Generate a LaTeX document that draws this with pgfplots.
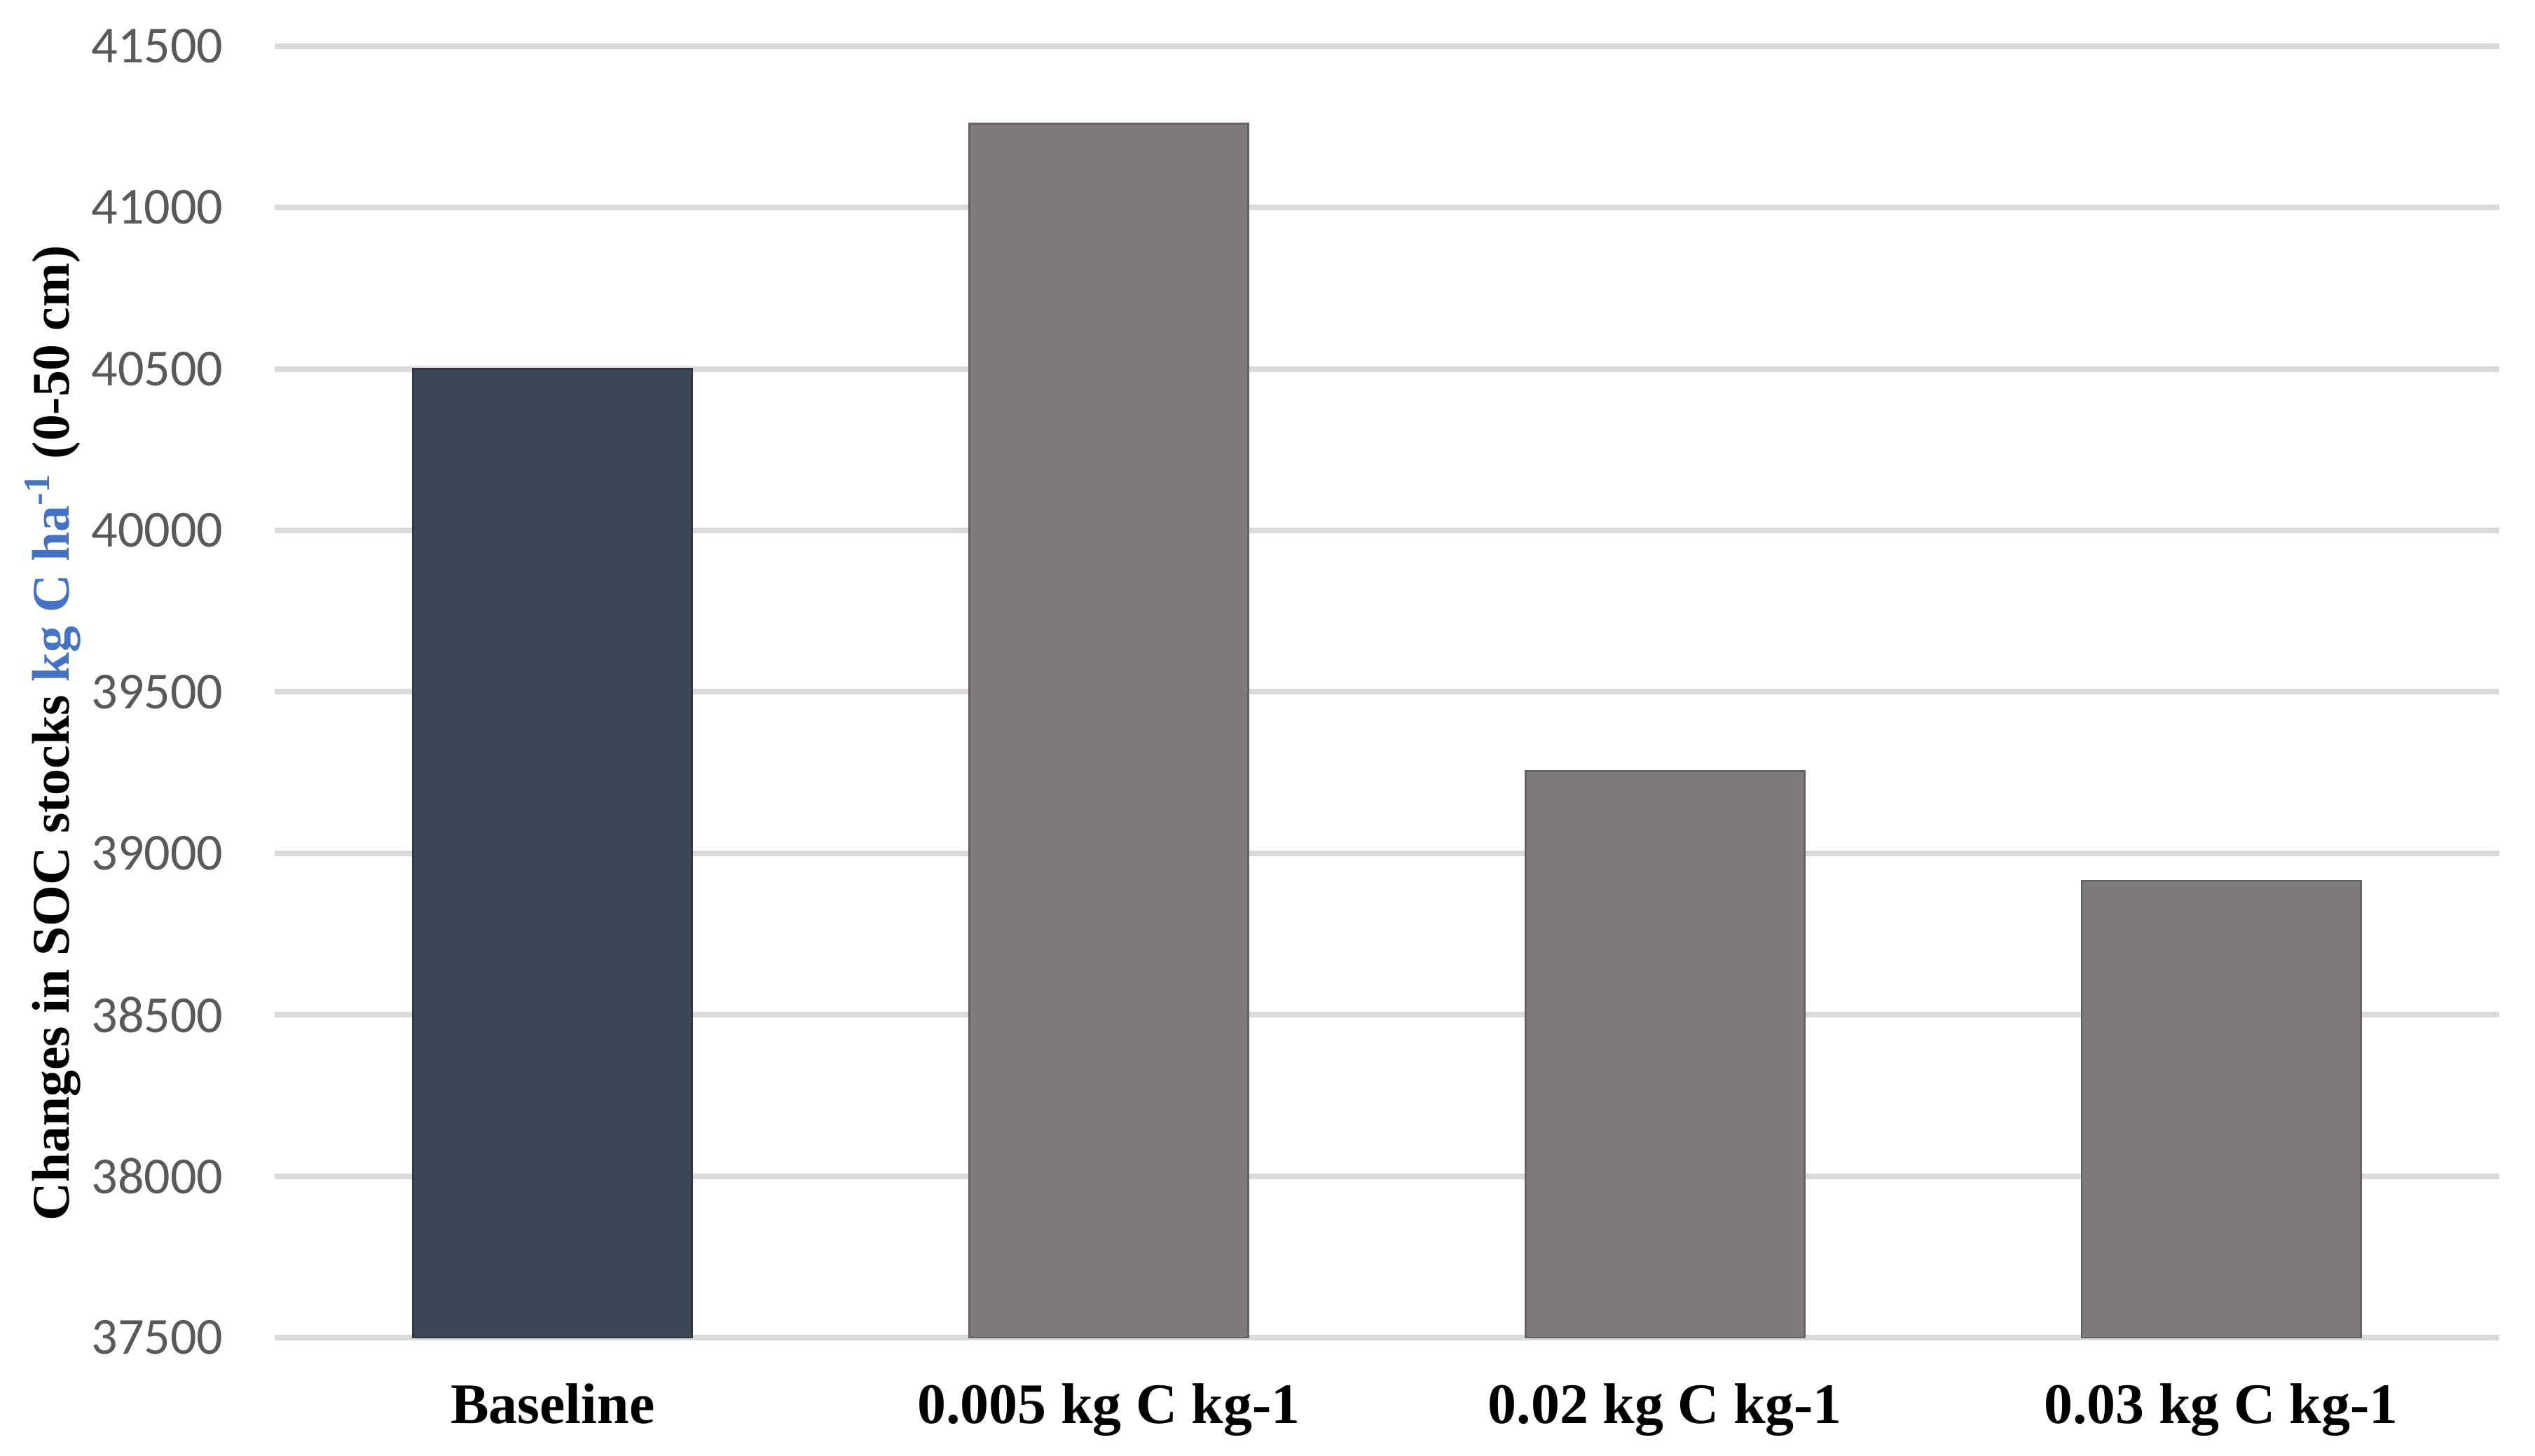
\documentclass[border=0pt]{standalone}
\usepackage{fontspec}
\setmainfont{Liberation Serif}
\newfontfamily\carlito{Carlito}
\usepackage{pgfplots}
\pgfplotsset{compat=1.18}

\definecolor{basebar}{HTML}{3B4757}
\definecolor{graybar}{HTML}{7F7B7A}
\definecolor{gridgray}{HTML}{D9D9D9}
\definecolor{ticktext}{HTML}{595959}
\definecolor{unitblue}{HTML}{4472C4}

\begin{document}
\begin{tikzpicture}
  \begin{axis}[
      name=ax,
      scale only axis,
      width=453.7pt, height=263.4pt,
      ybar, bar width=56.9pt, bar shift=0pt,
      xmin=-0.5, xmax=3.5,
      ymin=37500, ymax=41500,
      ytick distance=500,
      scaled y ticks=false,
      xtick={0,1,2,3},
      xticklabels={Baseline, 0.005 kg C kg-1, 0.02 kg C kg-1, 0.03 kg C kg-1},
      axis line style={draw=none},
      major tick length=0pt,
      ymajorgrids=true,
      grid style={gridgray, line width=1.15pt},
      /pgf/number format/assume math mode=true,
      /pgf/number format/1000 sep={},
      yticklabel style={font=\carlito\fontsize{10.6}{12}\selectfont,
        text=ticktext, inner sep=0pt, anchor=east, xshift=-10.3pt},
      xticklabel style={font=\bfseries\fontsize{11.7}{14}\selectfont,
        inner sep=0pt, anchor=base, yshift=-17.5pt},
      ylabel={Changes in SOC stocks \textcolor{unitblue}{kg C ha\textsuperscript{-1}} (0-50 cm)},
      ylabel style={at={(axis description cs:-0.0998,0.468)}, anchor=center,
        inner sep=0pt, font=\bfseries\fontsize{10.8}{13}\selectfont},
    ]

    % baseline
    \addplot[fill=basebar, draw=basebar!80!black, line width=0.4pt]
      coordinates {(0,40500)};

    % biochar rates
    \addplot[fill=graybar, draw=graybar!80!black, line width=0.4pt]
      coordinates {(1,41260) (2,39255) (3,38915)};

  \end{axis}
  \pgfresetboundingbox
  \path ([xshift=-56pt,yshift=-24.1pt]ax.south west)
    rectangle ([xshift=7.3pt,yshift=9.4pt]ax.north east);
\end{tikzpicture}
\end{document}
